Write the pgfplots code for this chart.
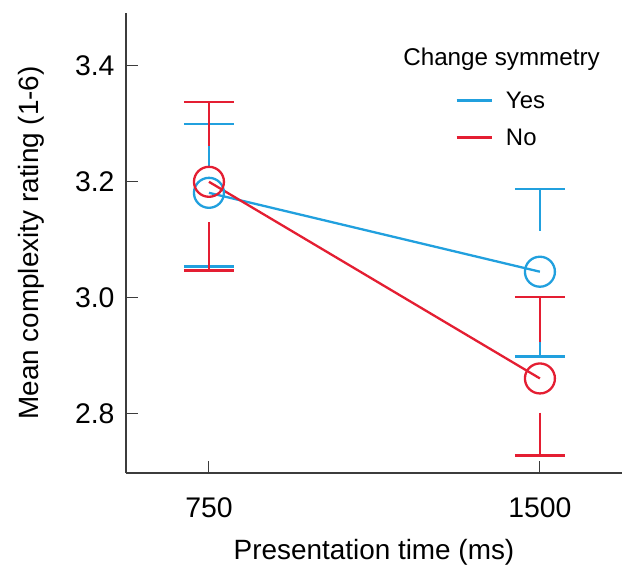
\documentclass[border=0pt]{standalone}
\usepackage{fontspec}
\setmainfont{Liberation Sans}
\usepackage{pgfplots}
\pgfplotsset{compat=1.18}
\definecolor{cblue}{RGB}{33,160,222}
\definecolor{cred}{RGB}{228,30,50}
\definecolor{axc}{RGB}{60,60,60}
\begin{document}
\begin{tikzpicture}
\begin{axis}[
  name=ax,
  scale only axis, width=496bp, height=460bp,
  xmin=562, xmax=1686, ymin=2.698, ymax=3.491,
  axis lines*=left,
  axis line style={axc, line width=1.2bp},
  xtick={750,1500}, ytick={2.8,3.0,3.2,3.4},
  tick align=inside, major tick length=12bp,
  tick style={axc, line width=1bp},
  /pgf/number format/assume math mode=true,
  yticklabel style={xshift=-8bp, /pgf/number format/fixed, /pgf/number format/fixed zerofill, /pgf/number format/precision=1},
  xticklabel style={yshift=-21bp, /pgf/number format/1000 sep={}},
  ticklabel style={font=\fontsize{28.5}{30}\selectfont},
  label style={font=\fontsize{28}{30}\selectfont},
  xlabel={Presentation time (ms)},
  ylabel={Mean complexity rating (1-6)},
  xlabel style={at={(axis description cs:0.5,-0.187)}, anchor=base},
  ylabel style={at={(axis description cs:-0.1774,0.5)}, anchor=base},
  unbounded coords=jump,
  clip=false,
  legend image code/.code={\draw[#1, line width=2.6bp] (0bp,0bp) -- (35bp,0bp);},
  legend style={draw=none, fill=none, at={(axis cs:1308,3.359)}, anchor=north west,
    font=\fontsize{24}{26}\selectfont, row sep=15bp, inner sep=0pt,
    /tikz/every odd column/.style={column sep=11bp}},
  legend cell align=left,
]
% Yes error bars
\addplot[cblue, line width=2.3bp, forget plot] coordinates {
(693.4,3.300) (806.6,3.300) (750,nan)
(750,3.300) (750,3.226) (750,nan)
(750,3.128) (750,3.054) (750,nan)
(693.4,3.054) (806.6,3.054) (750,nan)
(1443.4,3.187) (1556.6,3.187) (1500,nan)
(1500,3.187) (1500,3.115) (1500,nan)
(1500,2.976) (1500,2.899) (1500,nan)
(1443.4,2.899) (1556.6,2.899)
};
% No error bars
\addplot[cred, line width=2.3bp, forget plot] coordinates {
(693.4,3.337) (806.6,3.337) (750,nan)
(750,3.337) (750,3.262) (750,nan)
(750,3.130) (750,3.047) (750,nan)
(693.4,3.047) (806.6,3.047) (750,nan)
(1443.4,3.002) (1556.6,3.002) (1500,nan)
(1500,3.002) (1500,2.924) (1500,nan)
(1500,2.802) (1500,2.728) (1500,nan)
(1443.4,2.728) (1556.6,2.728)
};
\addplot[cblue, line width=2.3bp, mark=o, mark size=15bp, mark options={solid, line width=2.3bp}] coordinates {(750,3.181) (1500,3.045)};
\addlegendentry{Yes}
\addplot[cred, line width=2.3bp, mark=o, mark size=15bp, mark options={solid, line width=2.3bp}] coordinates {(750,3.200) (1500,2.861)};
\addlegendentry{No}
\node[anchor=base west, font=\fontsize{24.3}{26}\selectfont, inner sep=0pt] at (axis cs:1190,3.4) {Change symmetry};
\end{axis}
\pgfresetboundingbox
\path ([xshift=-126bp,yshift=-94bp]ax.south west) rectangle ([xshift=13bp,yshift=13bp]ax.north east);
\end{tikzpicture}
\end{document}
